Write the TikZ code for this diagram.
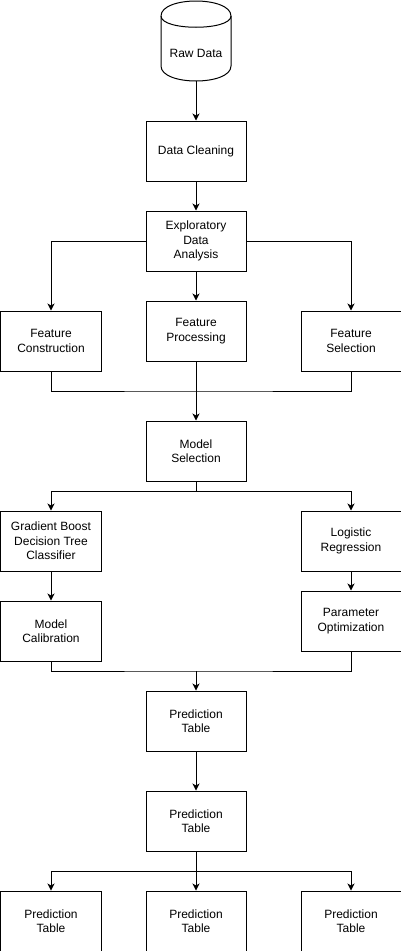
\documentclass[tikz,border=0pt]{standalone}
\usepackage{fontspec}
\setmainfont{Liberation Sans}
\usetikzlibrary{arrows.meta}
\begin{document}
\begin{tikzpicture}[x=1pt,y=-1pt,
  box/.style={draw=black,line width=1pt,fill=white,minimum width=100pt,minimum height=60pt,inner sep=0pt,align=center,font=\fontsize{12}{14.4}\selectfont},
  conn/.style={draw=black,line width=1pt},
  arr/.style={conn,-{Stealth[length=7pt,width=7pt,inset=2pt]}}]
\useasboundingbox (-1,-1) rectangle (400,950);
% cylinder
\draw[line width=1pt,fill=white] (160,15) .. controls (160,-5) and (230,-5) .. (230,15) -- (230,65) .. controls (230,85) and (160,85) .. (160,65) -- cycle;
\draw[line width=1pt] (160,15) .. controls (160,30) and (230,30) .. (230,15);
\node[minimum width=70pt,minimum height=80pt,inner sep=0pt,font=\fontsize{12}{14.4}\selectfont] (raw) at (195,40) {};
\node[font=\fontsize{12}{14.4}\selectfont] at (195,52) {Raw Data};
\node[box] (clean) at (195,150) {Data Cleaning};
\node[box] (eda) at (195,240) {Exploratory\\Data\\Analysis};
\node[box] (fc) at (50,340) {Feature\\Construction};
\node[box] (fp) at (195,330) {Feature\\Processing};
\node[box] (fs) at (350,340) {Feature\\Selection};
\node[box] (ms) at (195,450) {Model\\Selection};
\node[box] (gb) at (50,540) {Gradient Boost\\Decision Tree\\Classifier};
\node[box] (lr) at (350,540) {Logistic\\Regression};
\node[box] (mc) at (50,630) {Model\\Calibration};
\node[box] (po) at (350,620) {Parameter\\Optimization};
\node[box] (pt1) at (195,720) {Prediction\\Table};
\node[box] (pt2) at (195,820) {Prediction\\Table};
\node[box] (b1) at (50,920) {Prediction\\Table};
\node[box] (b2) at (195,920) {Prediction\\Table};
\node[box] (b3) at (350,920) {Prediction\\Table};
\coordinate (m1) at (195,390);
\coordinate (j2) at (195,490);
\coordinate (m2) at (195,670);
\coordinate (j3) at (195,870);
\draw[arr] (raw.south) -- (clean.north);
\draw[arr] (clean.south) -- (eda.north);
\draw[arr] (eda.west) -| (fc.north);
\draw[arr] (eda.east) -| (fs.north);
\draw[arr] (eda.south) -- (fp.north);
\draw[conn] (fc.south) |- (m1) -| (fs.south);
\draw[arr] (fp.south) -- (ms.north);
\draw[conn] (ms.south) -- (j2);
\draw[arr] (j2) -| (gb.north);
\draw[arr] (j2) -| (lr.north);
\draw[arr] (gb.south) -- (mc.north);
\draw[arr] (lr.south) -- (po.north);
\draw[conn] (mc.south) |- (m2) -| (po.south);
\draw[arr] (m2) -- (pt1.north);
\draw[arr] (pt1.south) -- (pt2.north);
\draw[conn] (pt2.south) -- (j3);
\draw[arr] (j3) -| (b1.north);
\draw[arr] (j3) -| (b3.north);
\draw[arr] (j3) -- (b2.north);
\end{tikzpicture}
\end{document}
